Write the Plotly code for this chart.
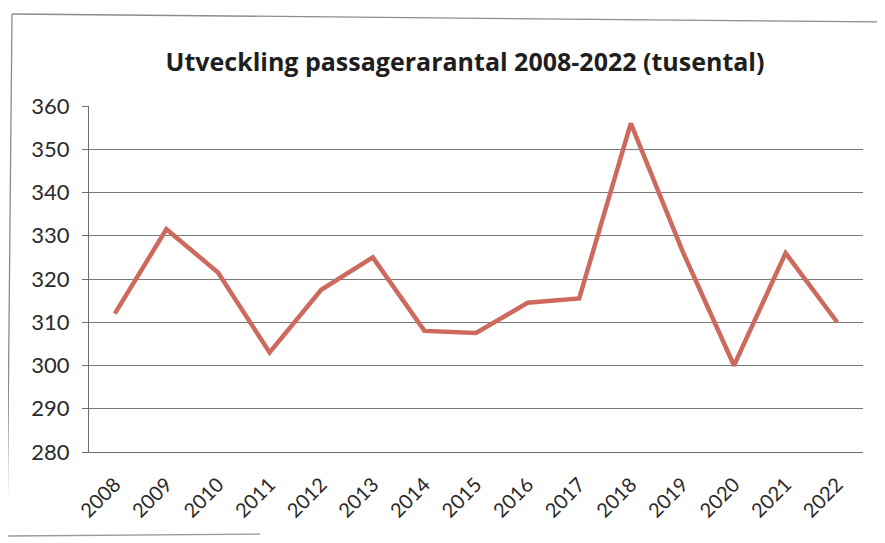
import plotly.graph_objects as go

years = ["2008", "2009", "2010", "2011", "2012", "2013", "2014", "2015",
         "2016", "2017", "2018", "2019", "2020", "2021", "2022"]
passengers = [312, 331.5, 321.5, 303, 317.5, 325, 308, 307.5,
              314.5, 315.5, 356, 326.5, 300, 326, 310]
y_ticks = [280, 290, 300, 310, 320, 330, 340, 350, 360]

W, H = 885, 543
OFF = 8  # page body margin
ml, mr, mt, mb = 81, 30, 98, 99
pw = W - ml - mr
ph = H - mt - mb


def px(sx):
    return (sx - OFF - ml) / pw


def py(sy):
    return (H - mb - (sy - OFF)) / ph


fig = go.Figure()
fig.add_trace(go.Scatter(
    x=years, y=passengers, mode="lines",
    line=dict(color="#cd6a5d", width=4.5),
    hoverinfo="x+y", showlegend=False,
))

frame_color = "#8c8c8c"
for (x0, y0, x1, y1, c) in [
    (12, 14, 885, 22, frame_color),   # top
    (12, 14, 7, 536, frame_color),    # left
    (7, 536, 260, 534, "#9a9a9a"),    # bottom (faded in the scan)
]:
    fig.add_shape(type="line", xref="paper", yref="paper",
                  x0=px(x0), y0=py(y0), x1=px(x1), y1=py(y1),
                  line=dict(color=c, width=1.3), layer="below")

fig.update_layout(
    width=W, height=H,
    margin=dict(l=ml, r=mr, t=mt, b=mb),
    paper_bgcolor="white", plot_bgcolor="white",
    font=dict(family="Lato, 'Open Sans', sans-serif", color="#2a2a2a"),
    title=dict(text="<b>Utveckling passagerarantal 2008-2022 (tusental)</b>",
               x=(465 - OFF) / W, xanchor="center",
               y=1 - (62 - OFF) / H, yanchor="middle", yref="container",
               font=dict(size=25, color="#1e1e1e",
                         family="'Open Sans', Lato, sans-serif")),
    xaxis=dict(type="category", range=[-0.5, 14.5], showgrid=False,
               showline=True, linecolor="#6e6e6e", linewidth=1,
               tickangle=-45, tickfont=dict(size=20), ticks="", ticklen=0,
               ticklabelstandoff=12, fixedrange=True),
    yaxis=dict(range=[280, 360], tickvals=y_ticks, showgrid=True,
               gridcolor="#7a7a7a", gridwidth=1, zeroline=False,
               showline=True, linecolor="#6e6e6e", linewidth=1,
               ticks="outside", ticklen=6, tickcolor="#6e6e6e",
               ticklabelstandoff=8,
               tickfont=dict(size=22), fixedrange=True),
)

fig.write_html("out.html")
